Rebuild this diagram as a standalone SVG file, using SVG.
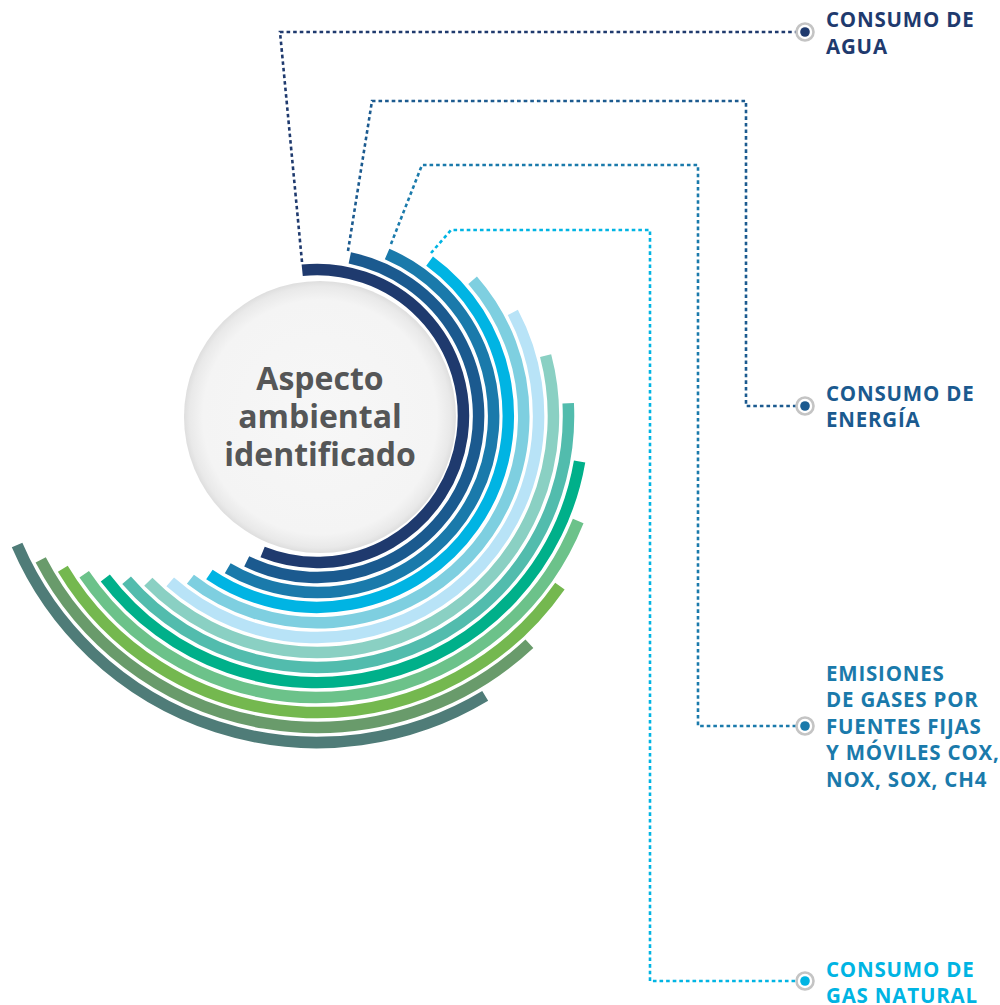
<svg xmlns="http://www.w3.org/2000/svg" width="1000" height="1005" viewBox="0 0 1000 1005">
<defs>
<radialGradient id="cg" cx="50%" cy="50%" r="50%">
<stop offset="0" stop-color="#f7f7f7"/>
<stop offset="0.86" stop-color="#f4f4f4"/>
<stop offset="0.96" stop-color="#e9e9e9"/>
<stop offset="1" stop-color="#dedede"/>
</radialGradient>
</defs>
<style>
.arc{fill:none;stroke-width:11.5;stroke-linecap:butt}
.con{fill:none;stroke-width:2.6;stroke-dasharray:3.6 3}
.ring{fill:#fff;stroke:#c4c4c4;stroke-width:2.6}
.lbl{font-family:"Open Sans","Liberation Sans",sans-serif;font-weight:700;font-size:20.5px;letter-spacing:0.8px}
.ctr{font-family:"Open Sans","Liberation Sans",sans-serif;font-weight:700;font-size:32px;fill:#555657;text-anchor:middle}
</style>
<rect width="1000" height="1005" fill="#fff"/>
<g id="arcs">
<path class="arc" stroke="#1f3a6e" d="M302.2 270.2 A146.5 146.5 0 1 1 262.6 552.0"/>
<path class="arc" stroke="#1b5a8f" d="M349.8 257.9 A161.5 161.5 0 1 1 246.7 561.4"/>
<path class="arc" stroke="#1a7aab" d="M387.1 254.0 A176.5 176.5 0 1 1 227.7 568.2"/>
<path class="arc" stroke="#00b4e3" d="M429.6 261.1 A191.5 191.5 0 0 1 209.4 574.4"/>
<path class="arc" stroke="#7ecfe0" d="M472.6 280.2 A206.5 206.5 0 0 1 190.4 579.2"/>
<path class="arc" stroke="#b8e3f7" d="M512.8 312.4 A221.5 221.5 0 0 1 170.2 581.9"/>
<path class="arc" stroke="#8ad0c3" d="M545.6 355.6 A236.5 236.5 0 0 1 148.3 581.8"/>
<path class="arc" stroke="#52bcad" d="M568.2 403.3 A251.5 251.5 0 0 1 126.6 580.3"/>
<path class="arc" stroke="#00b08a" d="M579.6 461.4 A266.5 266.5 0 0 1 105.3 577.9"/>
<path class="arc" stroke="#6cc28a" d="M578.2 521.0 A281.5 281.5 0 0 1 84.2 574.2"/>
<path class="arc" stroke="#74b84f" d="M559.9 586.1 A296.5 296.5 0 0 1 62.8 568.7"/>
<path class="arc" stroke="#699b6b" d="M529.4 643.8 A311.5 311.5 0 0 1 40.7 559.8"/>
<path class="arc" stroke="#4f7c78" d="M485.2 695.9 A326.5 326.5 0 0 1 17.1 545.1"/>
</g>
<g id="center">
<circle cx="320" cy="417" r="136" fill="url(#cg)"/>
<text class="ctr" x="320" y="390">Aspecto</text>
<text class="ctr" x="320" y="428">ambiental</text>
<text class="ctr" x="320" y="466">identificado</text>
</g>
<g id="connectors">
<polyline class="con" stroke="#1f3a6e" points="302,262 280,32 796,32"/>
<polyline class="con" stroke="#1b5a8f" points="348,251 372,101 746,101 746,406 796,406"/>
<polyline class="con" stroke="#1a7aab" points="391,244 422,165 698,165 698,726 796,726"/>
<polyline class="con" stroke="#00b4e3" points="431,253 451,230 650,230 650,981 796,981"/>
</g>
<g id="agua">
<circle class="ring" cx="805" cy="32" r="8.5"/>
<circle cx="805" cy="32" r="4.8" fill="#1f3a6e"/>
<text class="lbl" fill="#1f3a6e"><tspan x="826" y="27">CONSUMO DE</tspan><tspan x="826" y="54">AGUA</tspan></text>
</g>
<g id="energia">
<circle class="ring" cx="805" cy="406" r="8.5"/>
<circle cx="805" cy="406" r="4.8" fill="#1b5a8f"/>
<text class="lbl" fill="#1b5a8f"><tspan x="826" y="400.5">CONSUMO DE</tspan><tspan x="826" y="427">ENERGÍA</tspan></text>
</g>
<g id="emisiones">
<circle class="ring" cx="805" cy="726" r="8.5"/>
<circle cx="805" cy="726" r="4.8" fill="#1a7aab"/>
<text class="lbl" fill="#1a7aab"><tspan x="826" y="680.5">EMISIONES</tspan><tspan x="826" y="707">DE GASES POR</tspan><tspan x="826" y="733.5">FUENTES FIJAS</tspan><tspan x="826" y="760">Y MÓVILES COX,</tspan><tspan x="826" y="787">NOX, SOX, CH4</tspan></text>
</g>
<g id="gas">
<circle class="ring" cx="805" cy="981" r="8.5"/>
<circle cx="805" cy="981" r="4.8" fill="#00b4e3"/>
<text class="lbl" fill="#00b4e3"><tspan x="826" y="976.5">CONSUMO DE</tspan><tspan x="826" y="1002.5">GAS NATURAL</tspan></text>
</g>
</svg>
